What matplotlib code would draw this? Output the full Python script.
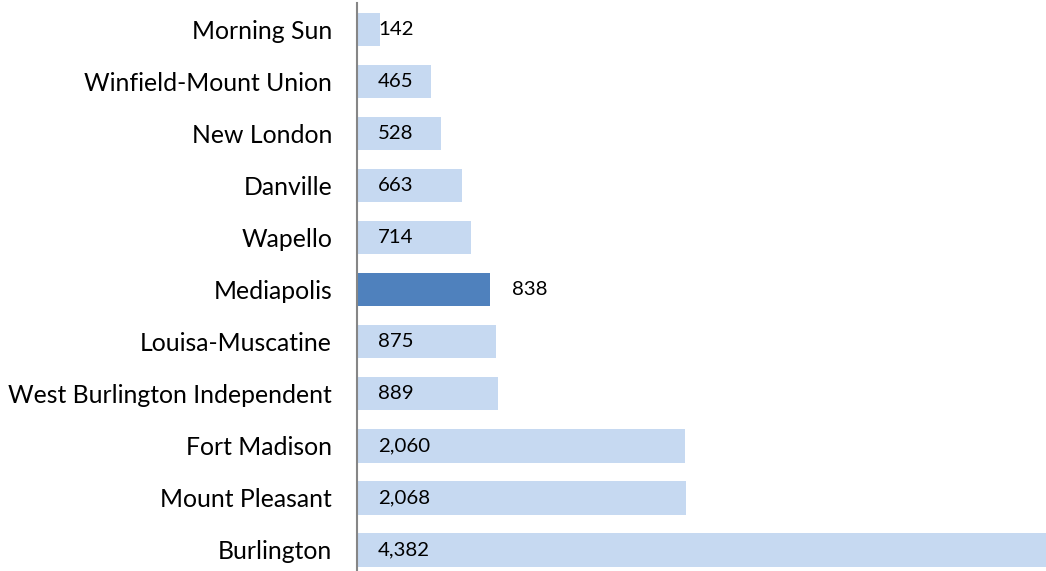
import matplotlib
matplotlib.use("Agg")
import matplotlib.pyplot as plt

categories = ["Morning Sun", "Winfield-Mount Union", "New London", "Danville", "Wapello",
              "Mediapolis", "Louisa-Muscatine", "West Burlington Independent",
              "Fort Madison", "Mount Pleasant", "Burlington"]
values = [142, 465, 528, 663, 714, 838, 875, 889, 2060, 2068, 4382]
highlight = "Mediapolis"

plt.rcParams['font.family'] = ['Lato', 'DejaVu Sans']

W, H = 1046, 571
fig = plt.figure(figsize=(W / 100, H / 100), dpi=100)
ax = fig.add_axes([357 / W, -5 / H, (1046 - 357) / W, 572.5 / H])

light = "#C6D9F1"
dark = "#4F81BD"
ypos = list(range(len(categories)))
colors = [dark if c == highlight else light for c in categories]
ax.barh(ypos, values, height=0.64, color=colors, left=0)
xmax = 4330
ax.set_xlim(0, xmax)
ax.set_ylim(len(categories) - 0.5, -0.5)

px = xmax / (1046 - 357)
for y, v, c in zip(ypos, values, categories):
    txt = f"{v:,}"
    if c == highlight:
        x = v + 22 * px
    else:
        x = 21 * px
    ax.text(x, y, txt, va="center", ha="left", fontsize=14.7, color="black")

ax.set_yticks(ypos)
ax.set_yticklabels(categories, fontsize=17.8)
ax.tick_params(axis="y", length=0, pad=18)
ax.set_xticks([])
for s in ["top", "right", "bottom"]:
    ax.spines[s].set_visible(False)
ax.spines["left"].set_color("#868686")
ax.spines["left"].set_linewidth(1.5)

fig.savefig("out.png", dpi=100)
